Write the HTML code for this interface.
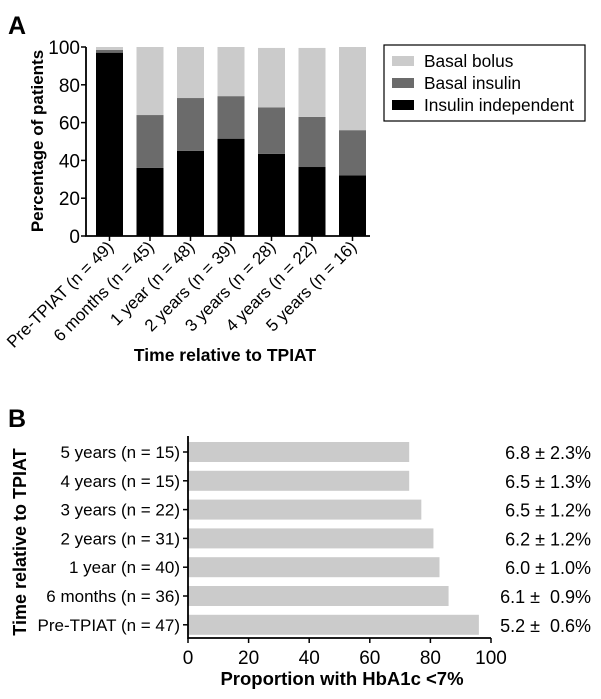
<!DOCTYPE html>
<html><head><meta charset="utf-8"><style>
body{margin:0;background:#fff;}
svg{display:block;font-family:"Liberation Sans",Arial,sans-serif;}
text{white-space:pre;}
</style></head><body>
<svg id="c" width="601" height="699" viewBox="0 0 601 699">
<text x="8" y="34" font-size="25" font-weight="bold">A</text>
<text x="8" y="427" font-size="25" font-weight="bold">B</text>
<g id="ga"></g>
<g id="gb"></g>
</svg>
<script>
const catsA=["Pre-TPIAT (n = 49)","6 months (n = 45)","1 year (n = 48)","2 years (n = 39)","3 years (n = 28)","4 years (n = 22)","5 years (n = 16)"];
const indep=[97,36,45,51.5,43.5,36.5,32];
const basal=[1.5,28,28,22.5,24.5,26.5,24];
const bolus=[1.5,36,27,26,31.5,36.5,44];
const ticksA=[0,20,40,60,80,100];
const catsB=["5 years (n = 15)","4 years (n = 15)","3 years (n = 22)","2 years (n = 31)","1 year (n = 40)","6 months (n = 36)","Pre-TPIAT (n = 47)"];
const propB=[73,73,77,81,83,86,96];
const hba=["6.8 ± 2.3%","6.5 ± 1.3%","6.5 ± 1.2%","6.2 ± 1.2%","6.0 ± 1.0%","6.1 ±  0.9%","5.2 ±  0.6%"];
const ticksB=[0,20,40,60,80,100];
const NS="http://www.w3.org/2000/svg";
function mk(p,t,a,txt){const e=document.createElementNS(NS,t);for(const k in a)e.setAttribute(k,a[k]);if(txt!==undefined)e.textContent=txt;p.appendChild(e);return e;}
// Panel A
const ga=document.getElementById('ga');
const yA=v=>236-v*1.89;
const xA=i=>96+i*40.5;
const bw=27;
ticksA.forEach(t=>{
 let l=mk(ga,'line',{x1:81,x2:86,y1:yA(t),y2:yA(t),stroke:'#000','stroke-width':1.5});
 
 let tx=mk(ga,'text',{x:80,y:yA(t)+7,'font-size':19,'text-anchor':'end'},t);
 
});
catsA.forEach((c,i)=>{
 const x=xA(i);
 let b0=indep[i],b1=b0+basal[i],b2=b1+bolus[i];
 let r=mk(ga,'rect',{x:x,y:yA(b0),width:bw,height:yA(0)-yA(b0),fill:'#000'});
 
 r=mk(ga,'rect',{x:x,y:yA(b1),width:bw,height:yA(b0)-yA(b1),fill:'#6b6b6b'});
 
 r=mk(ga,'rect',{x:x,y:yA(b2),width:bw,height:yA(b1)-yA(b2),fill:'#cbcbcb'});
 
 const cx=x+bw/2;
 let l=mk(ga,'line',{x1:cx,x2:cx,y1:236,y2:241,stroke:'#000','stroke-width':1.5});
 
 let tx=mk(ga,'text',{x:cx+5,y:248,'font-size':17,'text-anchor':'end',transform:`rotate(-45 ${cx+5} 248)`},c);
 
});
let la=mk(ga,'path',{d:'M86,47 V236 H370',stroke:'#000','stroke-width':1.8,fill:'none'});

let yt=mk(ga,'text',{x:0,y:0,'font-size':17,'font-weight':'bold','text-anchor':'middle',transform:'translate(43,141) rotate(-90)'},'Percentage of patients');

let xt=mk(ga,'text',{x:225,y:361,'font-size':17.5,'font-weight':'bold','text-anchor':'middle'},'Time relative to TPIAT');

let lg=mk(ga,'g',{});

mk(lg,'rect',{x:384,y:45,width:201,height:76,fill:'#fff',stroke:'#000','stroke-width':1.2});
[["Basal bolus","#cbcbcb"],["Basal insulin","#6b6b6b"],["Insulin independent","#000"]].forEach((d,i)=>{
 const y=61+i*22;
 let s=mk(lg,'rect',{x:392,y:y-5,width:22,height:10,fill:d[1]});
 
 let t=mk(lg,'text',{x:424,y:y+6,'font-size':17.3},d[0]);
 
});
// Panel B
const gb=document.getElementById('gb');
const xB=v=>188+v*3.03;
const yB=i=>452+i*28.8;
catsB.forEach((c,i)=>{
 const y=yB(i);
 let r=mk(gb,'rect',{x:xB(0),y:y-10,width:xB(propB[i])-xB(0),height:20,fill:'#cbcbcb'});
 
 let l=mk(gb,'line',{x1:183,x2:188,y1:y,y2:y,stroke:'#000','stroke-width':1.5});
 
 let t=mk(gb,'text',{x:180,y:y+6,'font-size':17,'text-anchor':'end'},c);
 
 let v=mk(gb,'text',{x:591,y:y+7,'font-size':18,'text-anchor':'end'},hba[i]);
 
});
ticksB.forEach(t=>{
 let l=mk(gb,'line',{x1:xB(t),x2:xB(t),y1:638,y2:643,stroke:'#000','stroke-width':1.5});
 
 let tx=mk(gb,'text',{x:xB(t),y:664,'font-size':19,'text-anchor':'middle'},t);
 
});
let lb=mk(gb,'path',{d:'M188,436 V638 H491',stroke:'#000','stroke-width':1.8,fill:'none'});

let yt2=mk(gb,'text',{x:0,y:0,'font-size':18,'font-weight':'bold','text-anchor':'middle',transform:'translate(26,542) rotate(-90)'},'Time relative to TPIAT');

let xt2=mk(gb,'text',{x:342,y:685,'font-size':18.5,'font-weight':'bold','text-anchor':'middle'},'Proportion with HbA1c <7%');

</script>
</body></html>
